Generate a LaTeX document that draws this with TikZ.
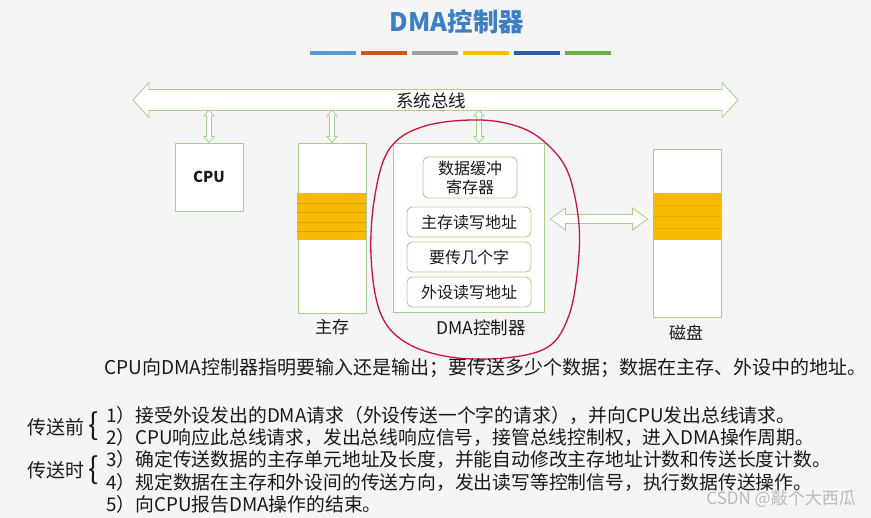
\documentclass[tikz,border=0pt]{standalone}
\usepackage{fontspec}
\setmainfont{Noto Sans CJK SC}
\usetikzlibrary{calc}
\definecolor{bgc}{RGB}{245,245,245}
\definecolor{lgreen}{RGB}{168,208,141}
\definecolor{goldy}{RGB}{248,186,0}
\definecolor{goldline}{RGB}{214,158,0}
\definecolor{titleblue}{RGB}{62,127,195}
\definecolor{barA}{RGB}{91,155,213}
\definecolor{barB}{RGB}{204,88,30}
\definecolor{barC}{RGB}{160,160,160}
\definecolor{barD}{RGB}{250,190,0}
\definecolor{barE}{RGB}{46,90,170}
\definecolor{barF}{RGB}{112,173,71}
\definecolor{loopred}{RGB}{205,20,60}
\definecolor{txt}{RGB}{25,25,25}
\definecolor{wm}{RGB}{185,185,185}
\newcommand\fs[1]{\fontsize{#1}{#1}\selectfont}
% vertical hollow double arrow from top point #1 to bottom point #2
\newcommand\vdarrow[2]{%
  \path let \p1=(#1), \p2=(#2) in [arrowshape]
    (\x1,\y1) -- (\x1+5pt,\y1-6pt) -- (\x1+2.5pt,\y1-6pt) -- (\x2+2.5pt,\y2+6pt)
    -- (\x2+5pt,\y2+6pt) -- (\x2,\y2) -- (\x2-5pt,\y2+6pt) -- (\x2-2.5pt,\y2+6pt)
    -- (\x1-2.5pt,\y1-6pt) -- (\x1-5pt,\y1-6pt) -- cycle;}
% horizontal hollow double arrow from left #1 to right #2; head half, head length, shaft half
\newcommand\hdarrow[5]{%
  \path let \p1=(#1), \p2=(#2) in [arrowshape]
    (\x1,\y1) -- (\x1+#4pt,\y1+#3pt) -- (\x1+#4pt,\y1+#5pt) -- (\x2-#4pt,\y2+#5pt)
    -- (\x2-#4pt,\y2+#3pt) -- (\x2,\y2) -- (\x2-#4pt,\y2-#3pt) -- (\x2-#4pt,\y2-#5pt)
    -- (\x1+#4pt,\y1-#5pt) -- (\x1+#4pt,\y1-#3pt) -- cycle;}
\tikzset{
  arrowshape/.style={draw=lgreen, fill=white, line width=0.8pt, line join=miter},
  box/.style={draw=lgreen, fill=white, line width=0.9pt, inner sep=0pt},
  regbox/.style={draw=lgreen, fill=white, line width=0.9pt, rounded corners=5pt,
     minimum width=124, minimum height=30, inner sep=0pt, font=\fs{16}, text=txt},
  lbl/.style={font=\fs{17}, text=txt, inner sep=0pt},
  line/.style={font=\fs{18.8}, text=txt, inner sep=0pt, anchor=west},
  bar/.style={line width=4pt},
}
\begin{document}
\begin{tikzpicture}[x=1pt,y=-1pt]
\fill[bgc] (0,0) rectangle (871,518);
\useasboundingbox (0,0) rectangle (871,518);

% title
\node[font=\fs{25.5}\bfseries, text=titleblue, inner sep=0pt] (title) at (457,22) {DMA控制器};
\draw[bar, barA] (310,53) -- (356,53);
\draw[bar, barB] (361,53) -- (407,53);
\draw[bar, barC] (412,53) -- (458,53);
\draw[bar, barD] (463,53) -- (509,53);
\draw[bar, barE] (514,53) -- (560,53);
\draw[bar, barF] (565,53) -- (611,53);

% system bus
\coordinate (busL) at (133,100);
\coordinate (busR) at (738,100);
\coordinate (busbot) at (133,110);
\hdarrow{busL}{busR}{17.5}{16}{10.5}
\node[lbl, font=\fs{17.5}] (buslbl) at (431,101) {系统总线};

% CPU
\node[box, minimum width=68, minimum height=68, font=\fs{15}\bfseries, text=txt] (cpu) at (209,177) {CPU};

% main memory
\node[box, minimum width=68, minimum height=170] (mem) at (332,228) {};
\fill[goldy] (297,193) rectangle (366,240);
\foreach \yy in {203,212.5,222,231} \draw[goldline, line width=0.8pt] (297,\yy) -- (366,\yy);
\node[lbl] (memlbl) at (332,327) {主存};

% DMA controller
\node[box, minimum width=151, minimum height=169] (dma) at (468.5,227.5) {};
\node[regbox, minimum width=94, minimum height=41, align=center, font={\fontsize{16}{19}\selectfont}] (buf) at (470,177.5) {数据缓冲\\寄存器};
\node[regbox] (mar) at (469,222) {主存读写地址};
\node[regbox] (cnt) at (469,257) {要传几个字};
\node[regbox] (dar) at (469,292) {外设读写地址};
\node[lbl, font=\fs{17.5}] (dmalbl) at (481,328) {DMA控制器};

% disk
\node[box, minimum width=68, minimum height=168] (disk) at (687,233) {};
\fill[goldy] (653.45,193) rectangle (720.55,240);
\foreach \yy in {205,216,228} \draw[goldline!60!goldy, line width=0.6pt] (653.45,\yy) -- (720.55,\yy);
\node[lbl] (disklbl) at (686,333) {磁盘};

% bus connections
\coordinate (dmatop) at ([xshift=10.5pt]dma.north);
\vdarrow{cpu.north |- busbot}{cpu.north}
\vdarrow{mem.north |- busbot}{mem.north}
\vdarrow{dmatop |- busbot}{dmatop}

% DMA <-> disk
\coordinate (hy) at (0,219);
\coordinate (hL) at ($(dma.east |- hy)+(6,0)$);
\coordinate (hR) at ($(disk.west |- hy)+(-5,0)$);
\hdarrow{hL}{hR}{11}{15}{4.5}

% red hand-drawn loop
\draw[loopred, line width=1.3pt] plot[smooth cycle, tension=0.6] coordinates {
  (480,120) (522,128) (550,147) (569,175) (579,225) (577,275) (568,318)
  (548,347) (505,358) (450,357) (405,342) (380,312) (371,255) (375,195)
  (390,148) (425,126)};

% description
\node[line, font=\fs{19}] (note) at (104,368) {CPU向DMA控制器指明要输入还是输出；要传送多少个数据；数据在主存、外设中的地址。};

\node[lbl, font=\fs{19}, anchor=east] (before) at (85,427) {传送前};
\node[lbl, font=\fs{30}] (br1) at (94,426) {\{};
\node[lbl, font=\fs{19}, anchor=east] (during) at (85,470) {传送时};
\node[lbl, font=\fs{30}] (br2) at (94,470) {\{};

\node[line] (s1) at (106,415) {1）接受外设发出的DMA请求（外设传送一个字的请求），并向CPU发出总线请求。};
\node[line] (s2) at (106,437) {2）CPU响应此总线请求，发出总线响应信号，接管总线控制权，进入DMA操作周期。};
\node[line] (s3) at (106,459) {3）确定传送数据的主存单元地址及长度，并能自动修改主存地址计数和传送长度计数。};
\node[line] (s4) at (106,482) {4）规定数据在主存和外设间的传送方向，发出读写等控制信号，执行数据传送操作。};
\node[line] (s5) at (106,504) {5）向CPU报告DMA操作的结束。};

% watermark
\node[font=\fs{17}, text=wm, inner sep=0pt, anchor=east] (wmark) at (856,499) {CSDN @敲个大西瓜};
\end{tikzpicture}
\end{document}
